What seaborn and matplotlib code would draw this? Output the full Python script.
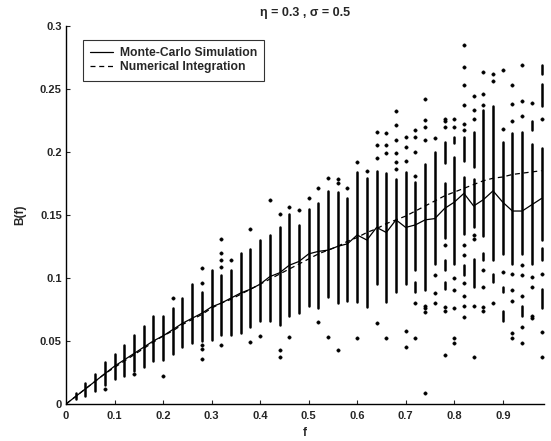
import numpy as np
import pandas as pd
import seaborn as sns
import matplotlib.pyplot as plt

# -----------------------------------
# Data
# -----------------------------------
col_f = [0.02, 0.04, 0.06, 0.08, 0.10, 0.12, 0.14, 0.16, 0.18, 0.20,
         0.22, 0.24, 0.26, 0.28, 0.30, 0.32, 0.34, 0.36, 0.38, 0.40,
         0.42, 0.44, 0.46, 0.48, 0.50, 0.52, 0.54, 0.56, 0.58, 0.60,
         0.62, 0.64, 0.66, 0.68, 0.70, 0.72, 0.74, 0.76, 0.78, 0.80,
         0.82, 0.84, 0.86, 0.88, 0.90, 0.92, 0.94, 0.96, 0.98]

# dense band of samples in each column
band_lo = [0.004, 0.006, 0.010, 0.015, 0.020, 0.022, 0.026, 0.029, 0.034, 0.035,
           0.040, 0.045, 0.048, 0.050, 0.051, 0.055, 0.055, 0.056, 0.061, 0.066,
           0.066, 0.063, 0.070, 0.072, 0.078, 0.076, 0.085, 0.080, 0.082, 0.081,
           0.077, 0.095, 0.081, 0.089, 0.095, 0.106, 0.090, 0.111, 0.132, 0.111,
           0.135, 0.140, 0.133, 0.114, 0.119, 0.111, 0.119, 0.111, 0.130]
band_hi = [0.009, 0.017, 0.024, 0.033, 0.040, 0.047, 0.055, 0.062, 0.070, 0.070,
           0.076, 0.084, 0.095, 0.089, 0.106, 0.102, 0.106, 0.120, 0.123, 0.130,
           0.134, 0.140, 0.151, 0.142, 0.155, 0.159, 0.169, 0.168, 0.163, 0.184,
           0.179, 0.185, 0.183, 0.178, 0.184, 0.176, 0.190, 0.200, 0.175, 0.196,
           0.180, 0.178, 0.233, 0.236, 0.208, 0.215, 0.216, 0.206, 0.203]

# smaller clusters
seg_f = [0.72, 0.78, 0.78, 0.78, 0.80, 0.82, 0.82, 0.84, 0.84, 0.86,
         0.88, 0.90, 0.90, 0.94, 0.96, 0.98, 0.98, 0.98, 0.98]
seg_lo = [0.089, 0.191, 0.106, 0.091, 0.207, 0.193, 0.102, 0.188, 0.093, 0.114,
          0.097, 0.089, 0.066, 0.070, 0.217, 0.262, 0.236, 0.114, 0.076]
seg_hi = [0.097, 0.208, 0.114, 0.097, 0.212, 0.212, 0.110, 0.216, 0.115, 0.120,
          0.103, 0.093, 0.074, 0.078, 0.224, 0.269, 0.254, 0.124, 0.091]

# isolated samples
dot_f = ([0.08, 0.14, 0.20, 0.22]
         + [0.28] * 5 + [0.32] * 5 + [0.34] + [0.38] * 2 + [0.40] + [0.42]
         + [0.44] * 3 + [0.46] * 2 + [0.48] + [0.50] + [0.52] * 2 + [0.54] * 2
         + [0.56] * 3 + [0.58] + [0.60] * 2 + [0.62] + [0.64] * 4 + [0.66] * 4
         + [0.68] * 6 + [0.70] * 5 + [0.72] * 6 + [0.74] * 8 + [0.76] * 4
         + [0.78] * 7 + [0.80] * 7 + [0.82] * 12 + [0.84] * 7 + [0.86] * 7
         + [0.88] * 3 + [0.90] * 3 + [0.92] * 8 + [0.94] * 8 + [0.96] * 5
         + [0.98] * 4)
dot_b = [0.012, 0.024, 0.022, 0.084,
         0.036, 0.044, 0.047, 0.096, 0.108,
         0.047, 0.109, 0.114, 0.120, 0.131,
         0.114,
         0.049, 0.139,
         0.054,
         0.162,
         0.037, 0.043, 0.151,
         0.053, 0.156,
         0.154,
         0.163,
         0.065, 0.171,
         0.053, 0.179,
         0.043, 0.175, 0.178,
         0.171,
         0.052, 0.192,
         0.185,
         0.064, 0.195, 0.205, 0.216,
         0.052, 0.199, 0.205, 0.215,
         0.186, 0.192, 0.199, 0.209, 0.221, 0.232,
         0.045, 0.058, 0.193, 0.204, 0.212,
         0.052, 0.080, 0.181, 0.200, 0.212, 0.217,
         0.009, 0.073, 0.076, 0.078, 0.209, 0.220, 0.225, 0.242,
         0.080, 0.088, 0.102, 0.211,
         0.039, 0.074, 0.077, 0.126, 0.220, 0.224, 0.226,
         0.048, 0.052, 0.076, 0.090, 0.100, 0.220, 0.226,
         0.069, 0.078, 0.086, 0.096, 0.118, 0.126, 0.217, 0.222, 0.237, 0.253, 0.267, 0.285,
         0.037, 0.078, 0.131, 0.134, 0.226, 0.233, 0.244,
         0.074, 0.077, 0.093, 0.106, 0.237, 0.246, 0.263,
         0.080, 0.256, 0.262,
         0.105, 0.218, 0.265,
         0.052, 0.056, 0.082, 0.090, 0.103, 0.224, 0.238, 0.253,
         0.048, 0.061, 0.086, 0.102, 0.110, 0.228, 0.240, 0.269,
         0.068, 0.070, 0.093, 0.101, 0.239,
         0.037, 0.057, 0.103, 0.226]

# mean curves
curve_f = [0.0] + col_f
mc_sim = [0.0, 0.006, 0.012, 0.018, 0.024, 0.030, 0.035, 0.040, 0.045, 0.050,
          0.054, 0.059, 0.064, 0.068, 0.072, 0.077, 0.080, 0.084, 0.088, 0.091,
          0.095, 0.101, 0.104, 0.110, 0.113, 0.119, 0.121, 0.122, 0.125, 0.127,
          0.134, 0.130, 0.140, 0.136, 0.146, 0.140, 0.142, 0.146, 0.147, 0.155,
          0.160, 0.167, 0.157, 0.162, 0.169, 0.160, 0.153, 0.153, 0.158, 0.163]
num_int = [0.0, 0.006, 0.012, 0.018, 0.024, 0.029, 0.034, 0.039, 0.044, 0.049,
           0.054, 0.058, 0.063, 0.067, 0.071, 0.076, 0.080, 0.083, 0.087, 0.091,
           0.095, 0.099, 0.103, 0.107, 0.111, 0.115, 0.119, 0.122, 0.125, 0.129,
           0.132, 0.136, 0.139, 0.143, 0.146, 0.149, 0.153, 0.157, 0.161, 0.165,
           0.168, 0.171, 0.174, 0.177, 0.179, 0.180, 0.182, 0.183, 0.184, 0.185]

# -----------------------------------
# Style
# -----------------------------------
sns.set_style("white")
plt.rcParams["font.family"] = ["Liberation Sans", "DejaVu Sans"]
plt.rcParams["font.size"] = 8
plt.rcParams["font.weight"] = "bold"

fig = plt.figure(figsize=(5.51, 4.41), dpi=100)
ax = fig.add_axes([0.1198, 0.0839, 0.8675, 0.858])

# -----------------------------------
# Samples
# -----------------------------------
ax.vlines(col_f, band_lo, band_hi, color="black", lw=1.8, capstyle="round")
ax.vlines(seg_f, seg_lo, seg_hi, color="black", lw=1.8, capstyle="round")

dots = pd.DataFrame({"f": dot_f, "B": dot_b})
sns.scatterplot(data=dots, x="f", y="B", ax=ax, color="black",
                s=6, marker="o", edgecolor="black", linewidth=0.3)

# -----------------------------------
# Curves
# -----------------------------------
curves = pd.DataFrame({"f": curve_f, "mc": mc_sim, "num": num_int})
sns.lineplot(data=curves, x="f", y="mc", ax=ax, color="black", lw=0.9,
             label="Monte-Carlo Simulation")
sns.lineplot(data=curves, x="f", y="num", ax=ax, color="black", lw=0.9,
             label="Numerical Integration")
ax.lines[-1].set_dashes((4, 3))

# -----------------------------------
# Axes
# -----------------------------------
ax.set_xlim(0, 0.985)
ax.set_ylim(0, 0.3)
ax.set_xticks([0, 0.1, 0.2, 0.3, 0.4, 0.5, 0.6, 0.7, 0.8, 0.9])
ax.set_xticklabels(["0", "0.1", "0.2", "0.3", "0.4", "0.5", "0.6", "0.7", "0.8", "0.9"])
ax.set_yticks([0, 0.05, 0.1, 0.15, 0.2, 0.25, 0.3])
ax.set_yticklabels(["0", "0.05", "0.1", "0.15", "0.2", "0.25", "0.3"])
ax.tick_params(axis="x", pad=5)
ax.tick_params(axis="y", pad=3)
ax.tick_params(direction="in", length=3, width=0.8, labelsize=8,
               left=True, bottom=True)
sns.despine(ax=ax)
for side in ["left", "bottom"]:
    ax.spines[side].set_color("black")
    ax.spines[side].set_linewidth(1.0)

ax.set_title("η = 0.3 , σ = 0.5", fontsize=9, fontweight="bold", pad=7)
ax.set_xlabel("f", fontsize=8.5, fontweight="bold", labelpad=4)
ax.set_ylabel("B(f)", fontsize=8.5, fontweight="bold", labelpad=10)

leg = ax.legend(loc="upper left", bbox_to_anchor=(0.035, 0.963),
                borderaxespad=0, fancybox=False, frameon=True,
                edgecolor="black", handlelength=1.9, fontsize=8.7,
                borderpad=0.6, labelspacing=0.2, handletextpad=0.55)
leg.get_frame().set_linewidth(0.8)

plt.savefig("out.png", dpi=100)
